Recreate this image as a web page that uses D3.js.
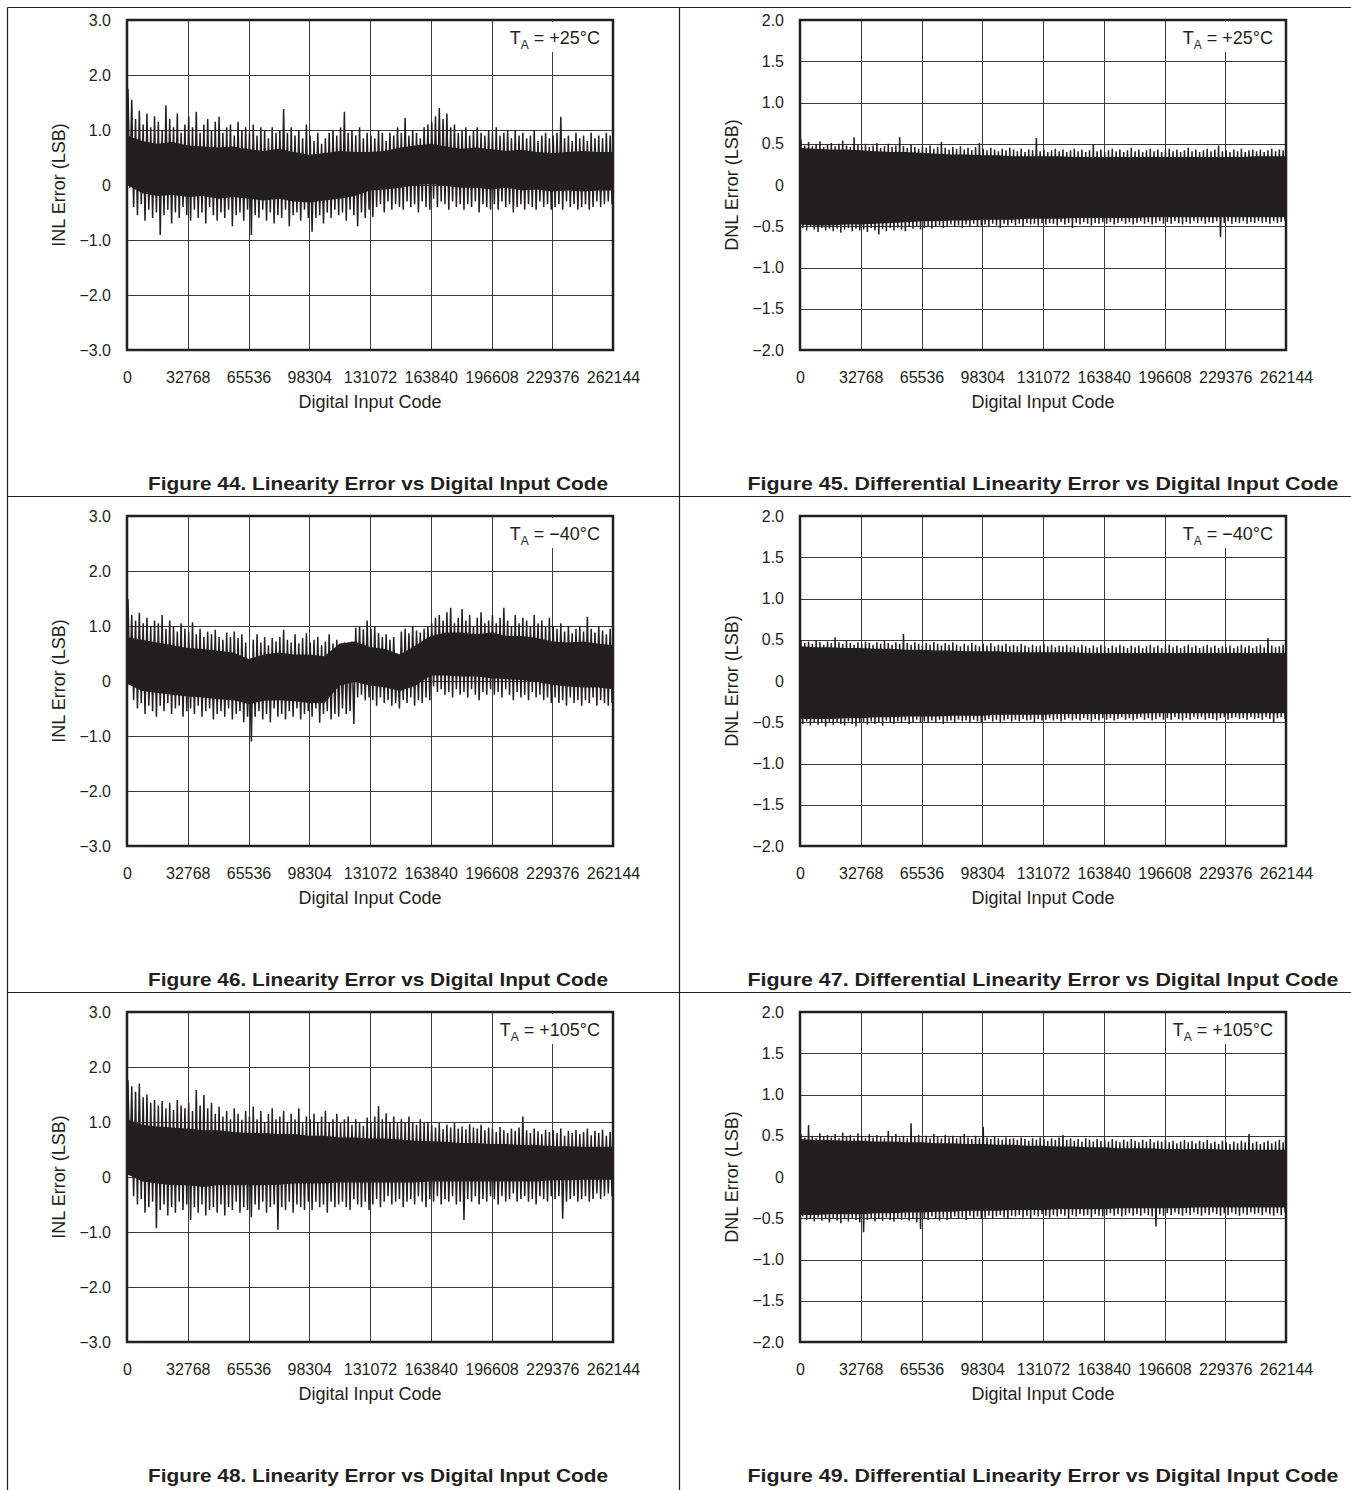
<!DOCTYPE html>
<html>
<head>
<meta charset="utf-8">
<script src="https://cdn.jsdelivr.net/npm/d3@7"></script>
<style>
  body { margin: 0; background: #fff; }
  svg { display: block; }
  text { font-family: "Liberation Sans", Arial, Helvetica, sans-serif; fill: #231f20; }
</style>
</head>
<body>
<svg id="chart" width="1351" height="1490"></svg>
<script>
// ---- axes ----
const FULL_SCALE = 262144;
const codeTicks = [0, 32768, 65536, 98304, 131072, 163840, 196608, 229376, 262144];
const inlTicks = [-3, -2, -1, 0, 1, 2, 3];
const dnlTicks = [-2, -1.5, -1, -0.5, 0, 0.5, 1, 1.5, 2];

// Peak values per bin of 2048 codes (128 bins across full scale);
// core values mark the edges of the dense band every 8192 codes.
const BIN = 2048;
const CORE_STEP = 8192;

// ---- Figure 44: INL, TA = +25°C ----
const inl25Hi = [
  1.75,1.55,1.20,1.35,1.10,1.30,1.05,1.25, 1.15,1.00,1.45,1.20,1.05,1.30,0.95,1.10,
  1.25,1.05,1.33,0.95,1.10,1.20,1.00,1.15, 1.24,0.95,1.05,1.10,0.90,1.15,1.00,1.05,
  0.95,1.10,0.90,1.05,1.00,0.85,1.05,0.95, 1.00,1.38,0.95,1.05,0.90,1.00,0.85,1.10,
  0.90,0.80,0.95,0.75,0.85,0.95,1.00,0.90, 1.05,1.33,0.95,1.00,0.90,1.05,0.85,0.95,
  0.90,0.85,1.00,0.95,0.80,0.95,0.90,1.05, 0.95,1.22,0.90,1.00,0.95,0.85,1.05,1.10,
  1.15,1.25,1.40,1.20,1.30,1.05,1.10,0.95, 1.00,1.05,0.90,1.00,1.05,0.95,0.90,1.00,
  0.95,1.05,0.90,0.95,1.00,0.85,1.00,0.90, 0.95,0.85,0.90,1.00,0.80,0.90,0.95,0.85,
  0.90,0.95,1.24,0.85,0.90,0.80,0.95,0.85, 0.90,0.80,0.95,0.85,0.90,0.85,0.95,0.90];
const inl25Lo = [
  -0.05,-0.40,-0.55,-0.35,-0.65,-0.45,-0.60,-0.50, -0.91,-0.55,-0.45,-0.70,-0.50,-0.60,-0.40,-0.55,
  -0.65,-0.45,-0.60,-0.50,-0.70,-0.40,-0.55,-0.65, -0.50,-0.60,-0.45,-0.75,-0.55,-0.50,-0.65,-0.45,
  -0.91,-0.55,-0.60,-0.45,-0.65,-0.50,-0.70,-0.55, -0.60,-0.45,-0.75,-0.55,-0.50,-0.65,-0.45,-0.60,
  -0.85,-0.60,-0.55,-0.70,-0.50,-0.60,-0.45,-0.55, -0.50,-0.65,-0.45,-0.55,-0.75,-0.50,-0.60,-0.45,
  -0.58,-0.40,-0.35,-0.50,-0.30,-0.45,-0.35,-0.40, -0.45,-0.30,-0.40,-0.35,-0.50,-0.30,-0.40,-0.45,
  -0.25,-0.40,-0.30,-0.35,-0.45,-0.30,-0.40,-0.35, -0.45,-0.35,-0.40,-0.30,-0.50,-0.35,-0.40,-0.45,
  -0.35,-0.45,-0.30,-0.40,-0.35,-0.50,-0.40,-0.35, -0.45,-0.35,-0.40,-0.45,-0.30,-0.40,-0.35,-0.45,
  -0.40,-0.35,-0.45,-0.30,-0.40,-0.35,-0.45,-0.40, -0.35,-0.45,-0.40,-0.30,-0.40,-0.35,-0.30,-0.35];
const inl25CoreHi = [0.90,0.80,0.75,0.78,0.72,0.70,0.68,0.70,0.65,0.62,0.66,0.60,0.55,0.58,0.62,0.60,
                     0.60,0.62,0.68,0.72,0.75,0.70,0.66,0.68,0.65,0.62,0.64,0.60,0.58,0.60,0.62,0.60,0.60];
const inl25CoreLo = [0.00,-0.15,-0.20,-0.18,-0.22,-0.20,-0.25,-0.22,-0.25,-0.28,-0.25,-0.30,-0.32,-0.28,-0.25,-0.20,
                     -0.10,-0.08,-0.05,0.00,0.02,-0.02,-0.05,-0.05,-0.08,-0.05,-0.10,-0.08,-0.12,-0.10,-0.12,-0.10,-0.10];

// ---- Figure 45: DNL, TA = +25°C ----
const dnl25Hi = [
  0.55,0.48,0.52,0.47,0.50,0.53,0.46,0.49, 0.51,0.47,0.50,0.54,0.48,0.46,0.58,0.49,
  0.47,0.50,0.46,0.48,0.51,0.45,0.47,0.50, 0.46,0.48,0.58,0.47,0.45,0.49,0.46,0.44,
  0.47,0.45,0.48,0.44,0.46,0.52,0.45,0.43, 0.46,0.44,0.47,0.43,0.45,0.42,0.46,0.51,
  0.44,0.42,0.45,0.43,0.41,0.44,0.42,0.45, 0.43,0.41,0.44,0.40,0.43,0.42,0.57,0.41,
  0.43,0.40,0.42,0.44,0.41,0.43,0.40,0.42, 0.44,0.41,0.43,0.40,0.42,0.49,0.41,0.43,
  0.40,0.42,0.44,0.41,0.43,0.40,0.42,0.45, 0.41,0.43,0.40,0.42,0.44,0.41,0.43,0.40,
  0.42,0.44,0.41,0.43,0.40,0.42,0.45,0.41, 0.43,0.40,0.42,0.44,0.41,0.43,0.48,0.41,
  0.42,0.40,0.43,0.41,0.44,0.40,0.42,0.43, 0.41,0.43,0.40,0.42,0.44,0.41,0.43,0.42];
const dnl25Lo = [
  -0.52,-0.55,-0.50,-0.54,-0.57,-0.52,-0.55,-0.53, -0.56,-0.53,-0.58,-0.54,-0.52,-0.56,-0.53,-0.55,
  -0.54,-0.57,-0.52,-0.55,-0.60,-0.53,-0.56,-0.52, -0.55,-0.52,-0.54,-0.56,-0.51,-0.53,-0.50,-0.54,
  -0.52,-0.50,-0.53,-0.51,-0.49,-0.52,-0.50,-0.48, -0.51,-0.49,-0.52,-0.48,-0.50,-0.47,-0.51,-0.49,
  -0.48,-0.50,-0.47,-0.49,-0.52,-0.47,-0.49,-0.46, -0.49,-0.47,-0.50,-0.46,-0.48,-0.47,-0.49,-0.46,
  -0.48,-0.46,-0.47,-0.49,-0.45,-0.48,-0.46,-0.52, -0.46,-0.48,-0.45,-0.47,-0.49,-0.46,-0.47,-0.45,
  -0.47,-0.45,-0.48,-0.46,-0.44,-0.47,-0.45,-0.48, -0.46,-0.44,-0.47,-0.45,-0.48,-0.46,-0.44,-0.47,
  -0.45,-0.47,-0.44,-0.46,-0.48,-0.45,-0.47,-0.44, -0.46,-0.44,-0.47,-0.45,-0.46,-0.44,-0.63,-0.46,
  -0.44,-0.47,-0.45,-0.46,-0.44,-0.47,-0.45,-0.46, -0.44,-0.46,-0.45,-0.47,-0.44,-0.46,-0.45,-0.44];
const dnl25CoreHi = [0.45,0.44,0.43,0.43,0.42,0.41,0.40,0.40,0.39,0.38,0.37,0.37,0.36,0.36,0.35,0.35,
                     0.35,0.35,0.34,0.34,0.34,0.34,0.34,0.34,0.34,0.34,0.34,0.34,0.34,0.34,0.35,0.35,0.35];
const dnl25CoreLo = [-0.48,-0.49,-0.49,-0.48,-0.48,-0.47,-0.46,-0.45,-0.44,-0.44,-0.43,-0.43,-0.42,-0.42,-0.42,-0.41,
                     -0.41,-0.41,-0.40,-0.40,-0.40,-0.40,-0.40,-0.39,-0.39,-0.39,-0.39,-0.39,-0.39,-0.39,-0.39,-0.39,-0.39];

// ---- Figure 46: INL, TA = -40°C ----
const inlM40Hi = [
  1.49,1.20,1.10,1.24,1.05,1.15,1.00,1.10, 1.05,1.20,0.95,1.10,1.00,0.90,1.05,0.95,
  0.90,1.07,0.85,0.95,0.80,0.90,0.85,0.93, 0.80,0.75,0.88,0.80,0.90,0.78,0.85,0.70,
  0.38,0.75,0.85,0.70,0.80,0.65,0.78,0.72, 0.80,0.93,0.75,0.70,0.85,0.68,0.78,0.87,
  0.70,0.75,0.80,0.65,0.72,0.85,0.68,0.75, 0.62,0.70,0.65,0.72,0.97,1.00,0.94,1.10,
  0.95,1.00,0.87,0.80,0.85,0.75,0.80,0.38, 0.90,0.95,0.87,1.00,0.92,0.88,0.95,1.00,
  1.05,1.15,1.20,1.10,1.25,1.33,1.05,1.15, 1.31,1.10,1.20,1.00,1.15,1.25,1.05,1.10,
  1.20,1.05,1.15,1.33,1.10,1.00,1.20,1.05, 1.15,1.10,1.00,1.20,1.05,1.10,0.98,1.15,
  1.00,0.95,1.05,0.90,1.00,0.87,0.95,1.00, 0.90,1.17,0.95,0.88,1.00,0.92,0.85,0.95];
const inlM40Lo = [
  0.00,-0.35,-0.50,-0.40,-0.60,-0.45,-0.55,-0.65, -0.45,-0.55,-0.40,-0.60,-0.50,-0.45,-0.65,-0.55,
  -0.50,-0.60,-0.45,-0.65,-0.55,-0.50,-0.70,-0.60, -0.55,-0.65,-0.50,-0.70,-0.60,-0.55,-0.75,-0.65,
  -1.10,-0.65,-0.55,-0.70,-0.60,-0.75,-0.50,-0.65, -0.60,-0.70,-0.55,-0.65,-0.50,-0.70,-0.60,-0.55,
  -0.65,-0.50,-0.76,-0.60,-0.55,-0.70,-0.60,-0.65, -0.50,-0.60,-0.55,-0.78,-0.30,-0.25,-0.35,-0.30,
  -0.35,-0.45,-0.30,-0.40,-0.35,-0.45,-0.40,-0.50, -0.35,-0.40,-0.30,-0.45,-0.35,-0.40,-0.30,-0.35,
  -0.10,-0.20,-0.15,-0.25,-0.20,-0.30,-0.15,-0.25, -0.20,-0.30,-0.15,-0.25,-0.35,-0.20,-0.25,-0.15,
  -0.25,-0.20,-0.30,-0.15,-0.25,-0.35,-0.20,-0.30, -0.25,-0.35,-0.20,-0.30,-0.25,-0.35,-0.30,-0.40,
  -0.30,-0.40,-0.35,-0.45,-0.30,-0.40,-0.35,-0.45, -0.35,-0.40,-0.30,-0.45,-0.35,-0.40,-0.45,-0.40];
const inlM40CoreHi = [0.80,0.75,0.70,0.65,0.60,0.58,0.55,0.52,0.40,0.48,0.52,0.48,0.48,0.45,0.68,0.72,
                      0.62,0.58,0.48,0.65,0.82,0.88,0.88,0.85,0.88,0.82,0.82,0.78,0.72,0.70,0.72,0.68,0.65];
const inlM40CoreLo = [-0.05,-0.18,-0.22,-0.25,-0.28,-0.30,-0.33,-0.35,-0.42,-0.36,-0.35,-0.37,-0.40,-0.40,-0.08,-0.02,
                      -0.08,-0.12,-0.18,-0.08,0.10,0.10,0.08,0.08,0.05,0.03,0.02,-0.02,-0.07,-0.10,-0.12,-0.12,-0.15];

// ---- Figure 47: DNL, TA = -40°C ----
const dnlM40Hi = [
  0.50,0.46,0.48,0.45,0.49,0.47,0.44,0.48, 0.46,0.53,0.47,0.45,0.49,0.46,0.44,0.47,
  0.45,0.48,0.46,0.44,0.47,0.45,0.49,0.46, 0.44,0.47,0.45,0.57,0.46,0.44,0.47,0.45,
  0.43,0.46,0.44,0.47,0.45,0.43,0.46,0.44, 0.47,0.44,0.42,0.45,0.43,0.46,0.44,0.42,
  0.45,0.43,0.46,0.42,0.44,0.43,0.45,0.42, 0.44,0.42,0.45,0.43,0.41,0.44,0.42,0.43,
  0.45,0.42,0.44,0.41,0.43,0.42,0.44,0.41, 0.43,0.41,0.44,0.42,0.40,0.43,0.41,0.44,
  0.42,0.40,0.43,0.41,0.44,0.42,0.40,0.43, 0.41,0.43,0.40,0.42,0.44,0.41,0.43,0.40,
  0.42,0.44,0.41,0.43,0.40,0.42,0.44,0.41, 0.43,0.40,0.42,0.44,0.41,0.43,0.40,0.42,
  0.41,0.43,0.40,0.42,0.44,0.41,0.43,0.40, 0.42,0.44,0.41,0.52,0.43,0.41,0.42,0.44];
const dnlM40Lo = [
  -0.52,-0.49,-0.54,-0.50,-0.53,-0.51,-0.55,-0.50, -0.53,-0.50,-0.52,-0.54,-0.49,-0.52,-0.55,-0.51,
  -0.50,-0.53,-0.49,-0.52,-0.50,-0.54,-0.48,-0.51, -0.52,-0.49,-0.51,-0.48,-0.52,-0.50,-0.47,-0.51,
  -0.49,-0.51,-0.48,-0.50,-0.47,-0.52,-0.49,-0.48, -0.50,-0.47,-0.49,-0.48,-0.51,-0.47,-0.49,-0.50,
  -0.48,-0.46,-0.49,-0.47,-0.50,-0.48,-0.46,-0.49, -0.47,-0.49,-0.46,-0.48,-0.47,-0.50,-0.46,-0.48,
  -0.47,-0.45,-0.48,-0.46,-0.49,-0.47,-0.45,-0.48, -0.46,-0.48,-0.45,-0.47,-0.49,-0.46,-0.48,-0.45,
  -0.47,-0.45,-0.48,-0.46,-0.44,-0.47,-0.45,-0.48, -0.46,-0.44,-0.47,-0.45,-0.48,-0.46,-0.44,-0.47,
  -0.45,-0.47,-0.44,-0.46,-0.48,-0.45,-0.47,-0.44, -0.46,-0.44,-0.47,-0.45,-0.46,-0.48,-0.45,-0.44,
  -0.47,-0.45,-0.44,-0.46,-0.45,-0.47,-0.44,-0.46, -0.45,-0.47,-0.44,-0.46,-0.50,-0.45,-0.44,-0.46];
const dnlM40CoreHi = [0.42,0.41,0.41,0.40,0.40,0.39,0.39,0.38,0.38,0.37,0.37,0.36,0.36,0.36,0.35,0.35,
                      0.35,0.35,0.35,0.34,0.34,0.34,0.34,0.34,0.34,0.34,0.34,0.34,0.34,0.34,0.34,0.34,0.34];
const dnlM40CoreLo = [-0.46,-0.46,-0.46,-0.45,-0.45,-0.44,-0.44,-0.43,-0.43,-0.43,-0.42,-0.42,-0.42,-0.41,-0.41,-0.41,
                      -0.41,-0.40,-0.40,-0.40,-0.40,-0.40,-0.40,-0.39,-0.39,-0.39,-0.39,-0.39,-0.39,-0.39,-0.39,-0.39,-0.39];

// ---- Figure 48: INL, TA = +105°C ----
const inl105Hi = [
  1.76,1.65,1.55,1.70,1.45,1.50,1.35,1.40, 1.30,1.38,1.25,1.35,1.22,1.40,1.30,1.25,
  1.35,1.20,1.58,1.30,1.49,1.25,1.35,1.15, 1.28,1.10,1.20,1.05,1.25,1.15,1.04,1.20,
  1.10,1.28,1.05,1.20,1.00,1.15,1.25,1.05, 1.10,1.20,1.00,1.15,1.05,1.25,0.98,1.10,
  1.05,1.15,1.00,1.10,1.20,1.00,1.05,1.15, 0.98,1.05,1.10,0.95,1.05,1.00,0.93,1.08,
  1.00,1.10,1.29,1.05,1.16,1.00,1.10,0.98, 1.05,0.98,1.10,1.00,0.95,1.05,0.98,1.00,
  0.95,0.90,0.98,0.87,0.95,0.90,0.98,0.88, 0.92,0.87,0.96,0.90,0.88,0.95,0.85,0.90,
  0.88,0.82,0.91,0.85,0.80,0.88,0.84,0.90, 1.10,0.85,0.80,0.88,0.83,0.78,0.86,0.82,
  0.85,0.80,0.88,0.75,0.84,0.80,0.86,0.78, 0.82,0.88,0.76,0.84,0.80,0.86,0.75,0.82];
const inl105Lo = [
  0.05,-0.35,-0.50,-0.40,-0.65,-0.55,-0.45,-0.93, -0.60,-0.50,-0.70,-0.55,-0.65,-0.45,-0.60,-0.50,
  -0.78,-0.55,-0.65,-0.50,-0.70,-0.60,-0.55,-0.65, -0.50,-0.70,-0.55,-0.60,-0.45,-0.65,-0.55,-0.60,
  -0.73,-0.50,-0.60,-0.45,-0.65,-0.55,-0.50,-0.96, -0.55,-0.60,-0.45,-0.65,-0.50,-0.55,-0.60,-0.45,
  -0.60,-0.45,-0.55,-0.50,-0.65,-0.45,-0.55,-0.50, -0.45,-0.55,-0.60,-0.40,-0.50,-0.55,-0.45,-0.60,
  -0.50,-0.40,-0.55,-0.45,-0.35,-0.50,-0.45,-0.40, -0.55,-0.45,-0.40,-0.50,-0.35,-0.45,-0.55,-0.40,
  -0.45,-0.35,-0.50,-0.40,-0.45,-0.35,-0.50,-0.45, -0.78,-0.40,-0.45,-0.35,-0.50,-0.40,-0.45,-0.35,
  -0.40,-0.50,-0.35,-0.45,-0.40,-0.30,-0.45,-0.40, -0.35,-0.45,-0.40,-0.50,-0.35,-0.40,-0.45,-0.35,
  -0.40,-0.35,-0.76,-0.45,-0.40,-0.35,-0.45,-0.40, -0.35,-0.45,-0.40,-0.30,-0.40,-0.35,-0.30,-0.35];
const inl105CoreHi = [1.05,0.95,0.92,0.90,0.88,0.85,0.85,0.82,0.80,0.80,0.78,0.78,0.75,0.75,0.72,0.72,
                      0.70,0.70,0.68,0.66,0.65,0.64,0.62,0.62,0.60,0.60,0.58,0.58,0.56,0.56,0.55,0.55,0.55];
const inl105CoreLo = [0.05,-0.08,-0.12,-0.15,-0.15,-0.18,-0.15,-0.15,-0.15,-0.15,-0.14,-0.12,-0.12,-0.12,-0.10,-0.10,
                      -0.10,-0.10,-0.10,-0.10,-0.08,-0.08,-0.08,-0.08,-0.08,-0.08,-0.08,-0.08,-0.06,-0.06,-0.05,-0.05,-0.05];

// ---- Figure 49: DNL, TA = +105°C ----
const dnl105Hi = [
  0.52,0.48,0.63,0.50,0.47,0.53,0.49,0.51, 0.48,0.52,0.47,0.54,0.49,0.51,0.47,0.53,
  0.50,0.47,0.52,0.48,0.51,0.49,0.47,0.56, 0.49,0.52,0.48,0.50,0.47,0.65,0.49,0.51,
  0.48,0.50,0.47,0.52,0.49,0.47,0.51,0.48, 0.50,0.47,0.49,0.52,0.48,0.46,0.50,0.47,
  0.61,0.48,0.46,0.49,0.47,0.45,0.48,0.46, 0.47,0.45,0.48,0.46,0.44,0.47,0.45,0.48,
  0.46,0.44,0.47,0.45,0.48,0.51,0.45,0.47, 0.44,0.46,0.43,0.47,0.45,0.43,0.46,0.44,
  0.45,0.43,0.46,0.44,0.42,0.45,0.43,0.46, 0.44,0.42,0.45,0.43,0.46,0.42,0.44,0.43,
  0.45,0.42,0.44,0.41,0.43,0.45,0.42,0.44, 0.41,0.44,0.42,0.45,0.41,0.43,0.40,0.44,
  0.42,0.40,0.43,0.41,0.44,0.42,0.52,0.41, 0.43,0.40,0.42,0.44,0.41,0.43,0.45,0.42];
const dnl105Lo = [
  -0.48,-0.52,-0.50,-0.54,-0.49,-0.53,-0.51,-0.55, -0.50,-0.53,-0.56,-0.51,-0.54,-0.50,-0.52,-0.55,
  -0.67,-0.52,-0.50,-0.54,-0.51,-0.53,-0.49,-0.52, -0.54,-0.50,-0.52,-0.49,-0.53,-0.51,-0.55,-0.63,
  -0.50,-0.52,-0.48,-0.51,-0.53,-0.49,-0.52,-0.50, -0.48,-0.51,-0.49,-0.52,-0.47,-0.50,-0.48,-0.51,
  -0.49,-0.47,-0.50,-0.48,-0.46,-0.49,-0.51,-0.47, -0.48,-0.46,-0.49,-0.47,-0.50,-0.46,-0.48,-0.45,
  -0.47,-0.49,-0.46,-0.48,-0.45,-0.47,-0.50,-0.46, -0.48,-0.45,-0.47,-0.46,-0.49,-0.45,-0.47,-0.48,
  -0.46,-0.44,-0.47,-0.45,-0.48,-0.46,-0.44,-0.47, -0.45,-0.47,-0.44,-0.46,-0.48,-0.60,-0.45,-0.47,
  -0.44,-0.46,-0.43,-0.45,-0.47,-0.44,-0.46,-0.43, -0.45,-0.47,-0.44,-0.46,-0.43,-0.45,-0.47,-0.44,
  -0.46,-0.43,-0.45,-0.47,-0.44,-0.46,-0.43,-0.45, -0.44,-0.46,-0.43,-0.45,-0.47,-0.44,-0.46,-0.43];
const dnl105CoreHi = [0.46,0.45,0.45,0.44,0.44,0.43,0.43,0.42,0.42,0.41,0.41,0.40,0.40,0.39,0.39,0.38,
                      0.38,0.37,0.37,0.36,0.36,0.35,0.35,0.35,0.34,0.34,0.34,0.34,0.33,0.33,0.33,0.33,0.33];
const dnl105CoreLo = [-0.46,-0.46,-0.45,-0.45,-0.45,-0.44,-0.44,-0.43,-0.43,-0.42,-0.42,-0.41,-0.41,-0.41,-0.40,-0.40,
                      -0.40,-0.39,-0.39,-0.39,-0.39,-0.38,-0.38,-0.38,-0.38,-0.38,-0.37,-0.37,-0.37,-0.37,-0.37,-0.37,-0.37];

const INL_TITLE = "Linearity Error vs Digital Input Code";
const DNL_TITLE = "Differential Linearity Error vs Digital Input Code";

const panels = [
  { fig: 44, kind: "INL", temp: "+25°C",  hi: inl25Hi,  lo: inl25Lo,  coreHi: inl25CoreHi,  coreLo: inl25CoreLo,  col: 0, row: 0 },
  { fig: 45, kind: "DNL", temp: "+25°C",  hi: dnl25Hi,  lo: dnl25Lo,  coreHi: dnl25CoreHi,  coreLo: dnl25CoreLo,  col: 1, row: 0 },
  { fig: 46, kind: "INL", temp: "\u221240°C", hi: inlM40Hi, lo: inlM40Lo, coreHi: inlM40CoreHi, coreLo: inlM40CoreLo, col: 0, row: 1 },
  { fig: 47, kind: "DNL", temp: "\u221240°C", hi: dnlM40Hi, lo: dnlM40Lo, coreHi: dnlM40CoreHi, coreLo: dnlM40CoreLo, col: 1, row: 1 },
  { fig: 48, kind: "INL", temp: "+105°C", hi: inl105Hi, lo: inl105Lo, coreHi: inl105CoreHi, coreLo: inl105CoreLo, col: 0, row: 2 },
  { fig: 49, kind: "DNL", temp: "+105°C", hi: dnl105Hi, lo: dnl105Lo, coreHi: dnl105CoreHi, coreLo: dnl105CoreLo, col: 1, row: 2 }
];

// ---- layout ----
const svg = d3.select("#chart");
const INK = "#231f20";
const PLOT_W = 486, PLOT_H = 330;
const colLeft = [127, 800];
const rowTop = [20, 516, 1012];
const captionX = [378, 1043];

// page rules separating the six figures
const rules = svg.append("g").attr("stroke", INK).attr("stroke-width", 1.2);
rules.append("line").attr("x1", 7.5).attr("x2", 1351).attr("y1", 7.5).attr("y2", 7.5);
rules.append("line").attr("x1", 7.5).attr("x2", 7.5).attr("y1", 7.5).attr("y2", 1490);
rules.append("line").attr("x1", 679.5).attr("x2", 679.5).attr("y1", 7.5).attr("y2", 1490);
rules.append("line").attr("x1", 7.5).attr("x2", 1351).attr("y1", 496.5).attr("y2", 496.5);
rules.append("line").attr("x1", 7.5).attr("x2", 1351).attr("y1", 992.5).attr("y2", 992.5);

const fmtY = v => v === 0 ? "0" : d3.format(".1f")(v);

panels.forEach((p, idx) => {
  const left = colLeft[p.col], top = rowTop[p.row];
  const isInl = p.kind === "INL";
  const yTicks = isInl ? inlTicks : dnlTicks;
  const x = d3.scaleLinear().domain([0, FULL_SCALE]).range([0, PLOT_W]);
  const y = d3.scaleLinear().domain(isInl ? [-3, 3] : [-2, 2]).range([PLOT_H, 0]);

  const g = svg.append("g").attr("transform", `translate(${left},${top})`);

  // grid
  const grid = g.append("g").attr("stroke", "#3a3a3a").attr("stroke-width", 1);
  grid.selectAll("line.v").data(codeTicks).join("line")
    .attr("x1", d => Math.round(x(d)) + 0.5).attr("x2", d => Math.round(x(d)) + 0.5)
    .attr("y1", 0).attr("y2", PLOT_H);
  grid.selectAll("line.h").data(yTicks).join("line")
    .attr("x1", 0).attr("x2", PLOT_W)
    .attr("y1", d => Math.round(y(d)) + 0.5).attr("y2", d => Math.round(y(d)) + 0.5);

  // temperature label on a white backing
  const lab = g.append("g");
  const t = lab.append("text").attr("x", PLOT_W - 13).attr("y", 24)
    .attr("text-anchor", "end").attr("font-size", 18);
  t.append("tspan").text("T");
  t.append("tspan").attr("font-size", 12).attr("dy", 5).text("A");
  t.append("tspan").attr("dy", -5).text(" = " + p.temp);
  const bb = t.node().getBBox();
  lab.insert("rect", "text").attr("x", bb.x - 4).attr("y", 2).attr("width", bb.width + 8).attr("height", 30)
    .attr("fill", "#fff");

  // data: dense band plus peak-to-peak trace
  const clipId = "clip" + idx;
  g.append("clipPath").attr("id", clipId).append("rect")
    .attr("width", PLOT_W).attr("height", PLOT_H);
  const dg = g.append("g").attr("clip-path", `url(#${clipId})`);

  const core = p.coreHi.map((v, i) => ({ code: i * CORE_STEP, hi: v, lo: p.coreLo[i] }));
  dg.append("path").datum(core)
    .attr("fill", INK)
    .attr("d", d3.area().x(d => x(d.code)).y0(d => y(d.lo)).y1(d => y(d.hi)));

  const trace = [];
  p.hi.forEach((v, i) => {
    trace.push([i * BIN + BIN * 0.25, v]);
    trace.push([i * BIN + BIN * 0.75, p.lo[i]]);
  });
  dg.append("path").datum(trace)
    .attr("fill", "none").attr("stroke", INK).attr("stroke-width", 1.5)
    .attr("stroke-linejoin", "miter").attr("stroke-miterlimit", 2)
    .attr("d", d3.line().x(d => x(d[0])).y(d => y(d[1])));

  // frame
  g.append("rect").attr("width", PLOT_W).attr("height", PLOT_H)
    .attr("fill", "none").attr("stroke", INK).attr("stroke-width", 2.5);

  // axes
  const yAxis = g.append("g").call(d3.axisLeft(y).tickValues(yTicks).tickSize(0).tickPadding(16).tickFormat(fmtY));
  yAxis.select(".domain").remove();
  yAxis.selectAll("text").attr("font-size", 16).attr("font-family", null).attr("fill", INK);

  const xAxis = g.append("g").attr("transform", `translate(0,${PLOT_H})`)
    .call(d3.axisBottom(x).tickValues(codeTicks).tickSize(0).tickPadding(22).tickFormat(d3.format("d")));
  xAxis.select(".domain").remove();
  xAxis.selectAll("text").attr("font-size", 16).attr("font-family", null).attr("fill", INK);

  g.append("text").attr("x", PLOT_W / 2).attr("y", PLOT_H + 58)
    .attr("text-anchor", "middle").attr("font-size", 18).text("Digital Input Code");

  g.append("text")
    .attr("transform", `translate(${-62},${PLOT_H / 2}) rotate(-90)`)
    .attr("text-anchor", "middle").attr("font-size", 18)
    .text(`${p.kind} Error (LSB)`);

  // caption
  svg.append("text").attr("x", captionX[p.col]).attr("y", top + 470)
    .attr("text-anchor", "middle").attr("font-size", 19).attr("font-weight", "bold")
    .attr("textLength", isInl ? 460 : 591).attr("lengthAdjust", "spacingAndGlyphs")
    .text(`Figure ${p.fig}. ${isInl ? INL_TITLE : DNL_TITLE}`);
});
</script>
</body>
</html>
